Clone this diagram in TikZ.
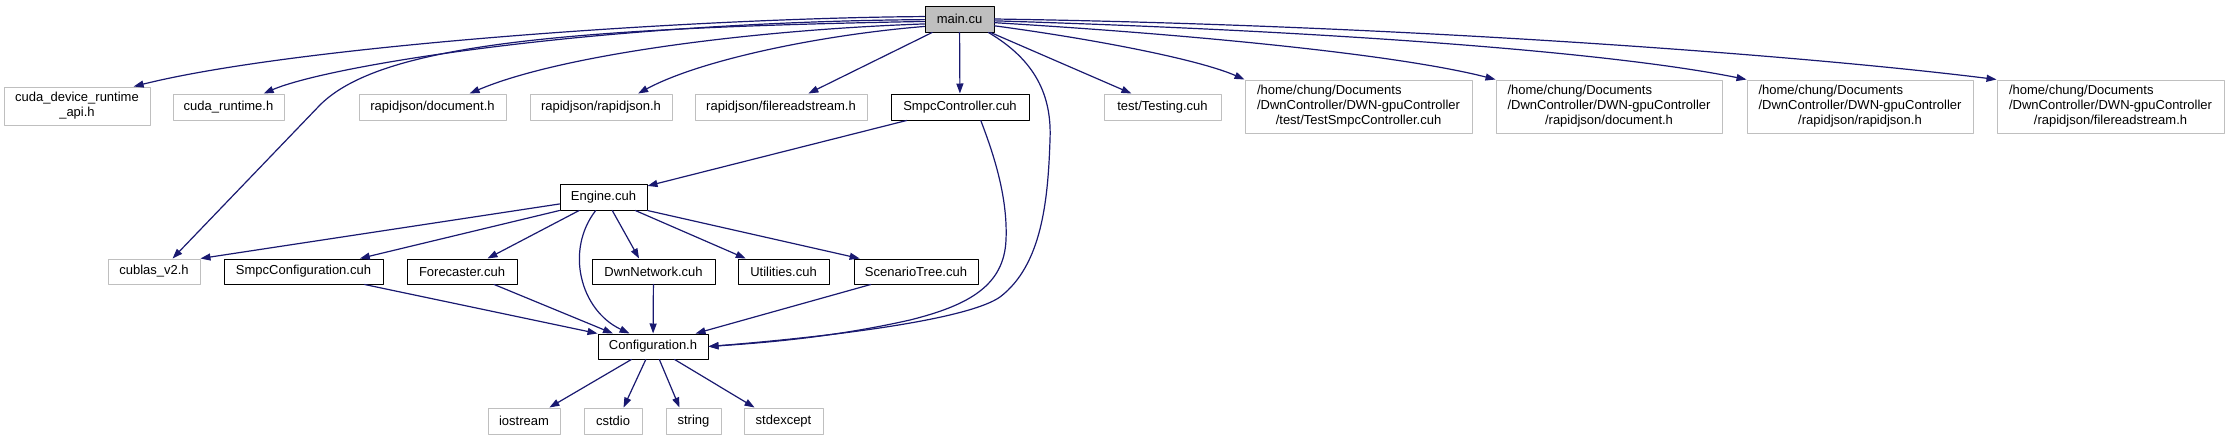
\documentclass[tikz,border=0pt]{standalone}
\usepackage{fontspec}
\setmainfont{Liberation Sans}
\usetikzlibrary{arrows.meta}
\definecolor{edgeblue}{HTML}{191970}
\definecolor{extgray}{HTML}{BFBFBF}
\begin{document}
\begin{tikzpicture}[x=1pt, y=-1pt, line join=round, line cap=round, >={Triangle[length=10pt,width=7pt]}]
\tikzset{every node/.style={font=\fontsize{13}{15}\selectfont, inner sep=0pt, minimum height=26pt, align=center},
  ext/.style={draw=extgray, line width=1pt},
  own/.style={draw=black, line width=1pt},
  dep/.style={->, draw=edgeblue, line width=1.2pt}}
\def\hp#1{\begin{tabular}{@{}l@{}}/home/chung/Documents\\/DwnController/DWN-gpuController\\\multicolumn{1}{@{}c@{}}{#1}\end{tabular}}
\useasboundingbox (0,0) rectangle (2229,440);
\node[own, fill=extgray, minimum width=69pt] (main) at (959.5,19) {main.cu};
\node[ext, minimum width=146pt, minimum height=38pt] (cudadev) at (77,106) {cuda\_device\_runtime\\\_api.h};
\node[ext, minimum width=111pt] (cudart) at (228.5,107) {cuda\_runtime.h};
\node[ext, minimum width=147pt] (rjdoc) at (432.5,107) {rapidjson/document.h};
\node[ext, minimum width=142pt] (rjrj) at (601,107) {rapidjson/rapidjson.h};
\node[ext, minimum width=172pt] (rjfrs) at (781,107) {rapidjson/filereadstream.h};
\node[own, minimum width=138pt] (smpcctrl) at (960,107) {SmpcController.cuh};
\node[ext, minimum width=117pt] (testing) at (1162.5,107) {test/Testing.cuh};
\node[ext, minimum width=227pt, minimum height=53pt] (hometest) at (1358.5,106.5) {\hp{/test/TestSmpcController.cuh}};
\node[ext, minimum width=226pt, minimum height=53pt] (homedoc) at (1609,106.5) {\hp{/rapidjson/document.h}};
\node[ext, minimum width=226pt, minimum height=53pt] (homerj) at (1860,106.5) {\hp{/rapidjson/rapidjson.h}};
\node[ext, minimum width=227pt, minimum height=53pt] (homefrs) at (2110.5,106.5) {\hp{/rapidjson/filereadstream.h}};
\node[own, minimum width=87pt] (engine) at (603.5,197) {Engine.cuh};
\node[ext, minimum width=92pt, minimum height=25pt] (cublas) at (154,271.5) {cublas\_v2.h};
\node[own, minimum width=159pt, minimum height=25pt] (smpcconf) at (303.5,271.5) {SmpcConfiguration.cuh};
\node[own, minimum width=110pt, minimum height=25pt] (forecaster) at (462,271.5) {Forecaster.cuh};
\node[own, minimum width=123pt, minimum height=25pt] (dwn) at (653.5,271.5) {DwnNetwork.cuh};
\node[own, minimum width=91pt, minimum height=25pt] (utilities) at (783.5,271.5) {Utilities.cuh};
\node[own, minimum width=124pt, minimum height=25pt] (scentree) at (916,271.5) {ScenarioTree.cuh};
\node[own, minimum width=110pt, minimum height=25pt] (config) at (653,346.5) {Configuration.h};
\foreach \n/\x/\w in {iostream/524/72, cstdio/613/58, string/693.5/55, stdexcept/783.5/79}
  \node[ext, minimum width=\w pt] (\n) at (\x,421) {\n};
\draw[dep] (main.176) .. controls (700,18) and (300,45) .. (cudadev.19);
\draw[dep] (main.181) .. controls (600,22) and (330,65) .. (cudart.21);
\draw[dep] (main.184) .. controls (560,28) and (380,45) .. (320,105) -- (cublas.35);
\draw[dep] (main.188) .. controls (750,30) and (560,55) .. (rjdoc.20);
\draw[dep] (main.192) .. controls (820,35) and (700,60) .. (rjrj.20);
\draw[dep] (main) -- (rjfrs);
\draw[dep] (main) -- (smpcctrl);
\draw[dep] (main.-25) .. controls (1035,60) and (1052,95) .. (1050,140) .. controls (1048,200) and (1042,265) .. (1000,297) .. controls (970,318) and (850,335) .. (config.east);
\draw[dep] (main) -- (testing);
\draw[dep] (main.-11) .. controls (1100,40) and (1200,60) .. (hometest.north west);
\draw[dep] (main.-6) .. controls (1200,35) and (1400,55) .. (homedoc.north west);
\draw[dep] (main.-3) .. controls (1300,30) and (1600,50) .. (homerj.north west);
\draw[dep] (main.east) .. controls (1400,25) and (1800,55) .. (homefrs.north west);
\draw[dep] (smpcctrl) -- (engine);
\draw[dep] (smpcctrl.-33) .. controls (992,150) and (1008,195) .. (1006,240) .. controls (1004,285) and (970,305) .. (910,320) .. controls (830,338) and (760,343) .. (config.east);
\foreach \a/\n/\b in {189/cublas/north east, south west/smpcconf/13, -151/forecaster/27, -57/dwn/138, -23/utilities/161, south east/scentree/167}
  \draw[dep] (engine.\a) -- (\n.\b);
\draw[dep] (engine.-120) .. controls (565,250) and (580,310) .. (config.151);
\draw[dep] (smpcconf.-12) -- (config.north west);
\draw[dep] (forecaster.-22) -- (config.162);
\draw[dep] (dwn) -- (config);
\draw[dep] (scentree.-164) -- (config.17);
\foreach \a/\n/\b in {-149/iostream/28, -119/cstdio/52, -64/string/136, -31/stdexcept/155}
  \draw[dep] (config.\a) -- (\n.\b);
\end{tikzpicture}
\end{document}
